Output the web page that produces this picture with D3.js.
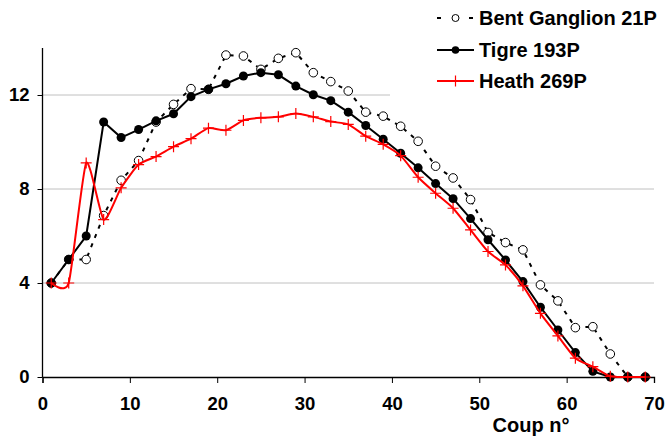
<!DOCTYPE html>
<html><head><meta charset="utf-8">
<script src="https://cdn.jsdelivr.net/npm/d3@7"></script>
<style>
html,body{margin:0;padding:0;background:#fff;}
svg text{font-family:"Liberation Sans",Arial,sans-serif;font-weight:bold;}
</style></head>
<body><svg id="c" width="665" height="437"></svg>
<script>
const coups = [1,3,5,7,9,11,13,15,17,19,21,23,25,27,29,31,33,35,37,39,41,43,45,47,49,51,53,55,57,59,61,63,65,67,69];
const bent = [4,5,5,6.87,8.37,9.21,10.85,11.6,12.27,12.24,13.7,13.66,13.09,13.56,13.8,12.95,12.57,12.17,11.27,11.1,10.67,10.03,8.97,8.47,7.55,6.15,5.72,5.41,3.92,3.24,2.1,2.14,0.98,0,0];
const tigre = [4,5,6,10.85,10.19,10.53,10.9,11.2,11.93,12.24,12.48,12.81,12.95,12.86,12.38,12.01,11.76,11.27,10.7,10.12,9.52,8.9,8.23,7.59,6.74,5.84,4.98,4.06,2.97,2.0,1.04,0.24,0,0,0];
const heath = [4,4,9.11,6.7,8.05,9.04,9.38,9.8,10.14,10.59,10.5,10.92,11.03,11.07,11.21,11.07,10.87,10.75,10.25,9.9,9.42,8.5,7.82,7.18,6.26,5.34,4.77,3.88,2.71,1.75,0.8,0.44,0.03,0,0];
const seriesNames = ["Bent Ganglion 21P","Tigre 193P","Heath 269P"];
const xTicks = [0,10,20,30,40,50,60,70];
const yTicks = [0,4,8,12];
const xTitle = "Coup n°";

const svg = d3.select("#c");
const x = d3.scaleLinear().domain([0,70]).range([42.5,654]);
const y = d3.scaleLinear().domain([0,14]).range([377,48]);

// gridlines
svg.append("g").selectAll("line").data(yTicks.filter(d=>d>0)).join("line")
  .attr("x1",x(0)).attr("x2",x(70)).attr("y1",d=>y(d)).attr("y2",d=>y(d))
  .attr("stroke","#c0c0c0").attr("stroke-width",1);

// axes
const xAxis = svg.append("g").attr("transform",`translate(0,${y(0)})`)
  .call(d3.axisBottom(x).tickValues(xTicks).tickSize(6).tickPadding(14).tickFormat(d3.format("d")));
const yAxis = svg.append("g").attr("transform",`translate(${x(0)},0)`)
  .call(d3.axisLeft(y).tickValues(yTicks).tickSize(5).tickPadding(8).tickFormat(d3.format("d")));
[xAxis,yAxis].forEach(a=>{
  a.select(".domain").attr("stroke","#000").attr("stroke-width",1.3);
  a.selectAll(".tick line").attr("stroke","#000").attr("stroke-width",1);
  a.selectAll("text").attr("font-size",18.5).attr("fill","#000")
   .attr("font-family","'Liberation Sans',Arial,sans-serif").attr("font-weight","bold");
});
yAxis.select(".domain").attr("d",`M0,${y(14)}V${y(0)}`);

svg.append("text").attr("x",531).attr("y",432).attr("text-anchor","middle")
  .attr("font-size",20).attr("fill","#000").text(xTitle);

const pts = vals => coups.map((c,i)=>[c,vals[i]]);
const lineStraight = d3.line().x(d=>x(d[0])).y(d=>y(d[1]));
const lineSmooth = d3.line().x(d=>x(d[0])).y(d=>y(d[1])).curve(d3.curveCardinal.tension(0.4));

// Bent Ganglion (dashed, open circles)
svg.append("path").datum(pts(bent)).attr("d",lineStraight).attr("fill","none")
  .attr("stroke","#000").attr("stroke-width",2).attr("stroke-dasharray","4,6");
svg.append("g").selectAll("circle").data(pts(bent)).join("circle")
  .attr("cx",d=>x(d[0])).attr("cy",d=>y(d[1])).attr("r",4.3)
  .attr("fill","#fff").attr("stroke","#000").attr("stroke-width",1);

// Tigre (solid black, filled circles)
svg.append("path").datum(pts(tigre)).attr("d",lineStraight).attr("fill","none")
  .attr("stroke","#000").attr("stroke-width",2);
svg.append("g").selectAll("circle").data(pts(tigre)).join("circle")
  .attr("cx",d=>x(d[0])).attr("cy",d=>y(d[1])).attr("r",4.5).attr("fill","#000");

// Heath (red smooth, plus markers)
svg.append("path").datum(pts(heath)).attr("d",lineSmooth).attr("fill","none")
  .attr("stroke","#ff0000").attr("stroke-width",2);
const plus = (g,cx,cy,s)=>{
  g.append("path").attr("d",`M${cx-s},${cy}H${cx+s}M${cx},${cy-s}V${cy+s}`)
   .attr("stroke","#ff0000").attr("stroke-width",1.2).attr("fill","none");
};
const hp = svg.append("g");
pts(heath).forEach(d=>plus(hp,x(d[0]),y(d[1]),5.5));

// legend
const lg = svg.append("g");
lg.append("rect").attr("x",390).attr("y",0).attr("width",275).attr("height",100).attr("fill","#fff");
const ly = [18,50,81];
const lx0 = 437, lx1 = 474, lxm = 455.5;
lg.append("line").attr("x1",lx0).attr("x2",lx0+4).attr("y1",ly[0]).attr("y2",ly[0])
  .attr("stroke","#000").attr("stroke-width",2);
lg.append("line").attr("x1",lx1-5).attr("x2",lx1-1).attr("y1",ly[0]).attr("y2",ly[0])
  .attr("stroke","#000").attr("stroke-width",2);
lg.append("circle").attr("cx",lxm).attr("cy",ly[0]).attr("r",3.5).attr("fill","#fff").attr("stroke","#000");
lg.append("line").attr("x1",lx0).attr("x2",lx1).attr("y1",ly[1]).attr("y2",ly[1])
  .attr("stroke","#000").attr("stroke-width",2);
lg.append("circle").attr("cx",lxm).attr("cy",ly[1]).attr("r",3.8).attr("fill","#000");
lg.append("line").attr("x1",lx0).attr("x2",lx1).attr("y1",ly[2]).attr("y2",ly[2])
  .attr("stroke","#ff0000").attr("stroke-width",2);
plus(lg,lxm,ly[2],5.5);
lg.selectAll("text.l").data(seriesNames).join("text").attr("class","l")
  .attr("x",479).attr("y",(d,i)=>ly[i]+7).attr("font-size",20).attr("fill","#000").text(d=>d);
</script></body></html>
